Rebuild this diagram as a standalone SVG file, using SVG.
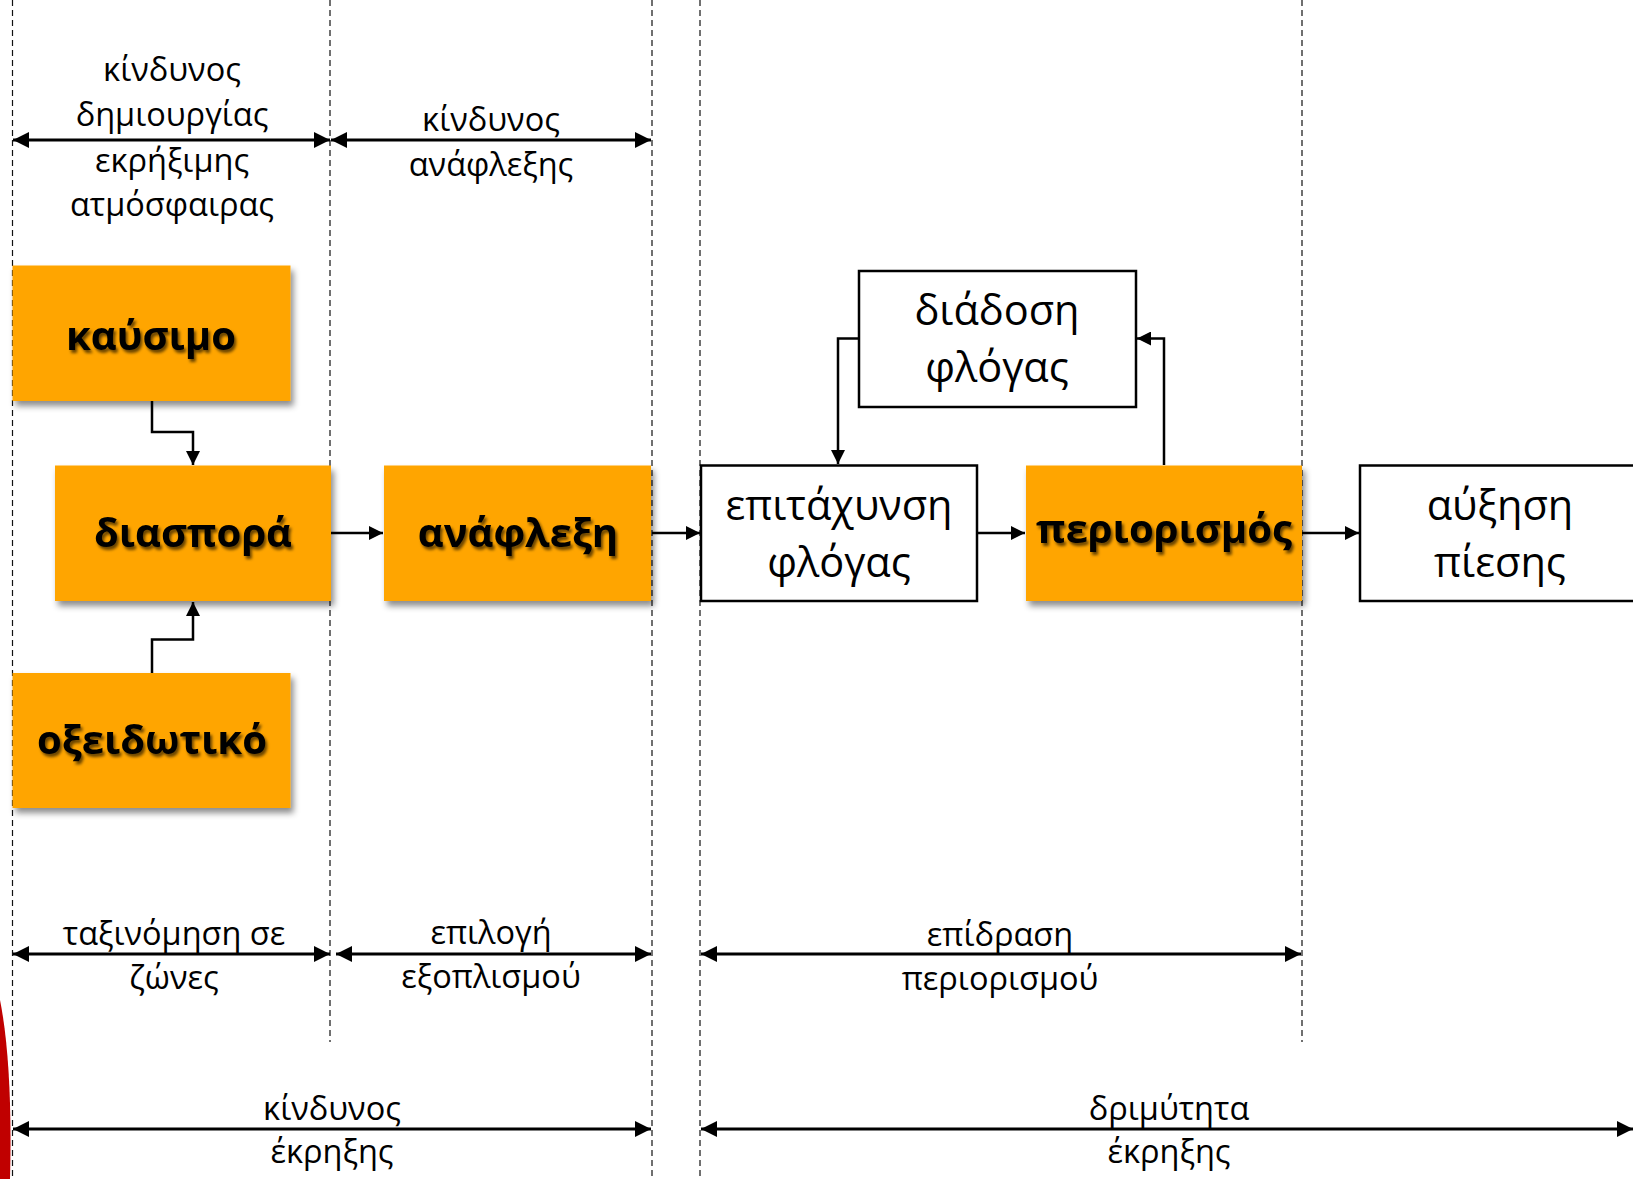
<svg xmlns="http://www.w3.org/2000/svg" width="1633" height="1179" viewBox="0 0 1633 1179">
<style>
.dash{stroke:#111;stroke-width:1.2;stroke-dasharray:6 4;fill:none}
.dim{stroke:#000;stroke-width:3;fill:none;marker-start:url(#ah);marker-end:url(#ah)}
.con{stroke:#000;stroke-width:2.5;fill:none;marker-end:url(#ac)}
.ob{fill:#FFA500;filter:url(#sh)}
.wb{fill:#fff;stroke:#000;stroke-width:2.5}
.bt{font-family:"Open Sans","Noto Sans",sans-serif;font-weight:bold;font-size:40px;text-anchor:middle;fill:#000;filter:url(#tsh)}
.rt{font-family:"Open Sans","Noto Sans",sans-serif;font-size:41.5px;text-anchor:middle;fill:#000}
.st{font-family:"Open Sans","Noto Sans",sans-serif;font-size:32.5px;text-anchor:middle;fill:#000}
</style>
<defs>
<marker id="ah" viewBox="0 0 14 14" refX="14" refY="7" markerWidth="16" markerHeight="16" orient="auto-start-reverse" markerUnits="userSpaceOnUse"><path d="M0,0 L14,7 L0,14 z" fill="#000"/></marker>
<marker id="ac" viewBox="0 0 12 12" refX="12" refY="6" markerWidth="14" markerHeight="14" orient="auto" markerUnits="userSpaceOnUse"><path d="M0,0 L12,6 L0,12 z" fill="#000"/></marker>
<filter id="sh" x="-10%" y="-10%" width="125%" height="130%"><feDropShadow dx="3" dy="5" stdDeviation="3" flood-color="#000" flood-opacity="0.45"/></filter>
<filter id="tsh" x="-10%" y="-20%" width="125%" height="150%"><feDropShadow dx="2" dy="3" stdDeviation="1.6" flood-color="#000" flood-opacity="0.6"/></filter>
</defs>
<rect width="1633" height="1179" fill="#fff"/>
<path d="M0,1000 C8,1040 12,1100 10,1179 L0,1179 Z" fill="#C00000"/>
<g id="guides">
<line class="dash" x1="12.5" y1="0" x2="12.5" y2="1179"/>
<line class="dash" x1="330" y1="0" x2="330" y2="1042"/>
<line class="dash" x1="652" y1="0" x2="652" y2="1179"/>
<line class="dash" x1="700" y1="0" x2="700" y2="1179"/>
<line class="dash" x1="1302" y1="0" x2="1302" y2="1042"/>
</g>
<g id="dimensions">
<line class="dim" x1="13" y1="140" x2="330" y2="140"/>
<line class="dim" x1="331" y1="140" x2="651" y2="140"/>
<line class="dim" x1="13" y1="954" x2="330" y2="954"/>
<line class="dim" x1="336" y1="954" x2="651" y2="954"/>
<line class="dim" x1="701" y1="954" x2="1301" y2="954"/>
<line class="dim" x1="13" y1="1129" x2="651" y2="1129"/>
<line class="dim" x1="701" y1="1129" x2="1633" y2="1129"/>
<text class="st" x="172" y="81">κίνδυνος</text>
<text class="st" x="172" y="126">δημιουργίας</text>
<text class="st" x="172" y="172">εκρήξιμης</text>
<text class="st" x="172" y="216">ατμόσφαιρας</text>
<text class="st" x="491" y="131">κίνδυνος</text>
<text class="st" x="491" y="176">ανάφλεξης</text>
<text class="st" x="174" y="945">ταξινόμηση σε</text>
<text class="st" x="174" y="989">ζώνες</text>
<text class="st" x="491" y="944">επιλογή</text>
<text class="st" x="491" y="988">εξοπλισμού</text>
<text class="st" x="1000" y="946">επίδραση</text>
<text class="st" x="1000" y="990">περιορισμού</text>
<text class="st" x="332" y="1120">κίνδυνος</text>
<text class="st" x="332" y="1163">έκρηξης</text>
<text class="st" x="1169" y="1120">δριμύτητα</text>
<text class="st" x="1169" y="1163">έκρηξης</text>
</g>
<g id="connectors">
<path class="con" d="M152,401 V432 H193 V465"/>
<path class="con" d="M152,673 V639.5 H193 V602"/>
<path class="con" d="M331,533 H383"/>
<path class="con" d="M652,533 H700"/>
<path class="con" d="M977,533 H1025"/>
<path class="con" d="M1302,533 H1359"/>
<path class="con" d="M1164,465 V338.5 H1137"/>
<path class="con" d="M859,338.5 H838 V464"/>
</g>
<g id="n-kausimo"><rect class="ob" x="12.5" y="265.5" width="278" height="135.5"/><text class="bt" x="151" y="350">καύσιμο</text></g>
<g id="n-diaspora"><rect class="ob" x="55" y="465.5" width="276" height="135.5"/><text class="bt" x="193" y="547">διασπορά</text></g>
<g id="n-anaflexi"><rect class="ob" x="384" y="465.5" width="267" height="135.5"/><text class="bt" x="518" y="547">ανάφλεξη</text></g>
<g id="n-oxeidotiko"><rect class="ob" x="12.5" y="673" width="278" height="135"/><text class="bt" x="152" y="754">οξειδωτικό</text></g>
<g id="n-periorismos"><rect class="ob" x="1026" y="465.5" width="276" height="135.5"/><text class="bt" x="1164" y="543">περιορισμός</text></g>
<g id="n-diadosi"><rect class="wb" x="859" y="271" width="277" height="136"/><text class="rt" x="997" y="325">διάδοση</text><text class="rt" x="997" y="382">φλόγας</text></g>
<g id="n-epitaxynsi"><rect class="wb" x="701" y="465.5" width="276" height="135.5"/><text class="rt" x="839" y="520">επιτάχυνση</text><text class="rt" x="839" y="577">φλόγας</text></g>
<g id="n-afxisi"><rect class="wb" x="1360" y="465.5" width="290" height="135.5"/><text class="rt" x="1500" y="520">αύξηση</text><text class="rt" x="1500" y="577">πίεσης</text></g>
</svg>
